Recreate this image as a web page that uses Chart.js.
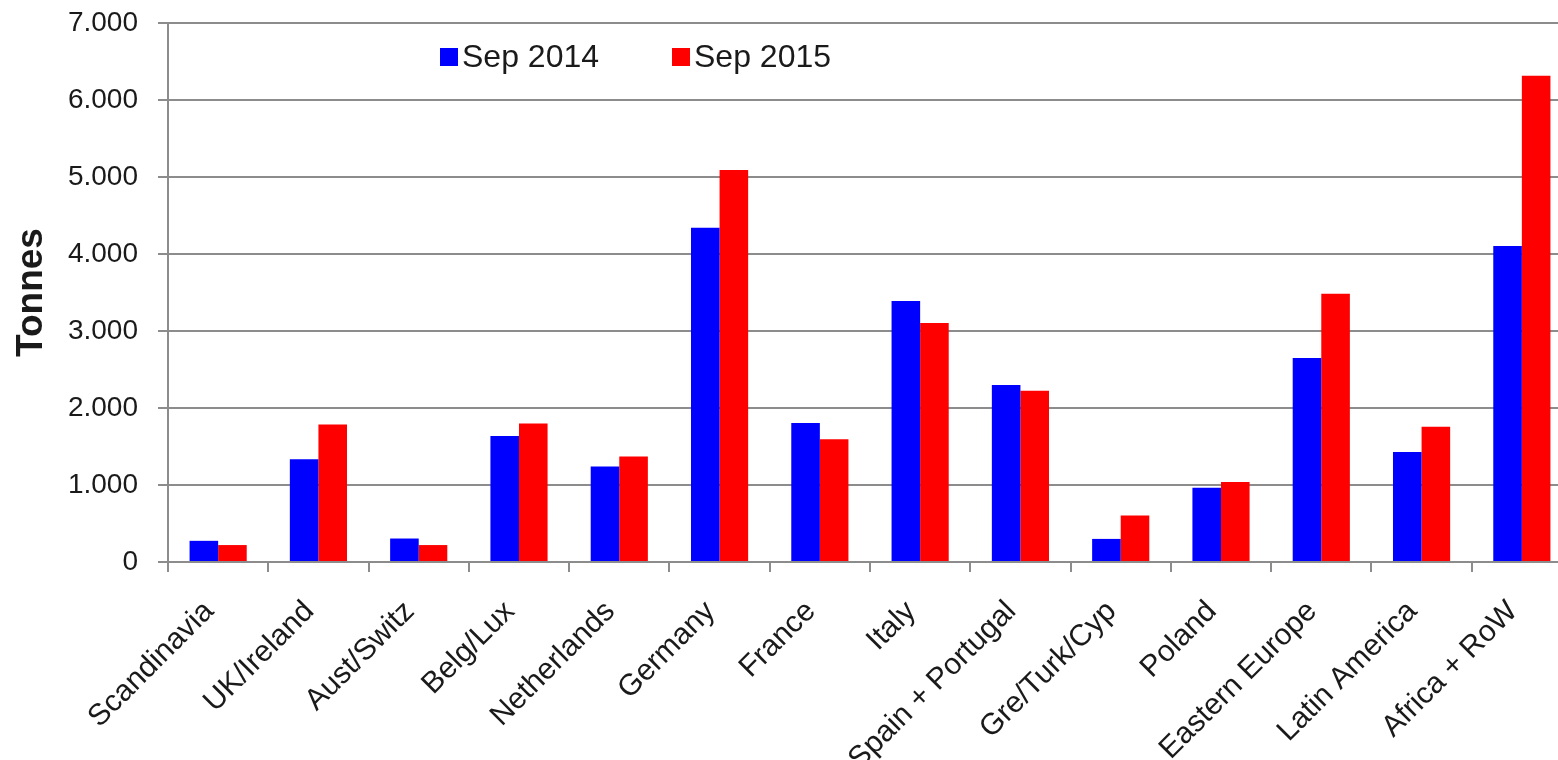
<!DOCTYPE html>
<html>
<head>
<meta charset="utf-8">
<title>Tonnes by region</title>
<script src="https://cdn.jsdelivr.net/npm/chart.js@4.4.1/dist/chart.umd.min.js"></script>
<style>
    html, body { margin: 0; padding: 0; background: #fff; overflow: hidden; }
    #wrap { position: relative; width: 1600px; height: 760px; }
</style>
</head>
<body>
<div id="wrap"><canvas id="chartTonnes"></canvas></div>
<script>
// Datos
const regiones = ['Scandinavia', 'UK/Ireland', 'Aust/Switz', 'Belg/Lux', 'Netherlands', 'Germany',
    'France', 'Italy', 'Spain + Portugal', 'Gre/Turk/Cyp', 'Poland', 'Eastern Europe',
    'Latin America', 'Africa + RoW'];
const sep2014 = [275, 1335, 305, 1635, 1240, 4340, 1805, 3390, 2300, 300, 965, 2650, 1430, 4105];
const sep2015 = [220, 1785, 220, 1800, 1370, 5090, 1595, 3105, 2225, 605, 1040, 3485, 1755, 6315];
const series = ['Sep 2014', 'Sep 2015'];
const yMax = 7000;
const yStep = 1000;

const colors = {
    blue: '#0000ff',
    red: '#ff0000',
    grid: '#8c8c8c',
    text: '#1a1a1a'
};
const fontFamily = "'Liberation Sans', Arial, sans-serif";

// separador de miles con punto
function fmt(v) {
    return String(v).replace(/\B(?=(\d{3})+(?!\d))/g, '.');
}

// leyenda dentro del área del gráfico
const legendInside = {
    id: 'legendInside',
    afterDraw(chart) {
        const ctx = chart.ctx;
        const items = [
            { x: 440, color: colors.blue, text: series[0] },
            { x: 672, color: colors.red, text: series[1] }
        ];
        ctx.save();
        ctx.font = '32px ' + fontFamily;
        ctx.textBaseline = 'middle';
        items.forEach(it => {
            ctx.fillStyle = it.color;
            ctx.fillRect(it.x, 48, 18, 18);
            ctx.fillStyle = colors.text;
            ctx.fillText(it.text, it.x + 22, 58);
        });
        ctx.restore();
    }
};

new Chart(document.getElementById('chartTonnes'), {
    type: 'bar',
    data: {
        labels: regiones,
        datasets: [
            { label: series[0], data: sep2014, backgroundColor: colors.blue, borderWidth: 0 },
            { label: series[1], data: sep2015, backgroundColor: colors.red, borderWidth: 0 }
        ]
    },
    options: {
        responsive: true,
        maintainAspectRatio: false,
        animation: false,
        categoryPercentage: 0.57,
        barPercentage: 1.0,
        layout: { padding: { top: 23, right: 28, left: 0, bottom: 0 } },
        plugins: {
            legend: { display: false },
            tooltip: { enabled: false }
        },
        scales: {
            x: {
                offset: true,
                grid: {
                    display: true,
                    drawOnChartArea: false,
                    drawTicks: true,
                    tickLength: 10,
                    color: colors.grid,
                    lineWidth: 2
                },
                border: { color: colors.grid, width: 2 },
                ticks: {
                    color: colors.text,
                    maxRotation: 45,
                    minRotation: 45,
                    autoSkip: false,
                    padding: 22,
                    labelOffset: -9,
                    font: { family: fontFamily, size: 30 }
                },
                afterFit(scale) { scale.height = 760 - 562; }
            },
            y: {
                min: 0,
                max: yMax,
                grid: {
                    color: colors.grid,
                    lineWidth: 2,
                    drawTicks: true,
                    tickLength: 10
                },
                border: { color: colors.grid, width: 2 },
                ticks: {
                    stepSize: yStep,
                    color: colors.text,
                    padding: 20,
                    font: { family: fontFamily, size: 28 },
                    callback: v => fmt(v)
                },
                title: {
                    display: true,
                    text: 'Tonnes',
                    color: colors.text,
                    padding: { top: 10, bottom: 0 },
                    font: { family: fontFamily, size: 37, weight: 'bold' }
                },
                afterFit(scale) {
                    scale.width = 168;
                    scale.paddingTop = 0;
                    scale.paddingBottom = 0;
                }
            }
        }
    },
    plugins: [legendInside]
});
</script>
</body>
</html>
